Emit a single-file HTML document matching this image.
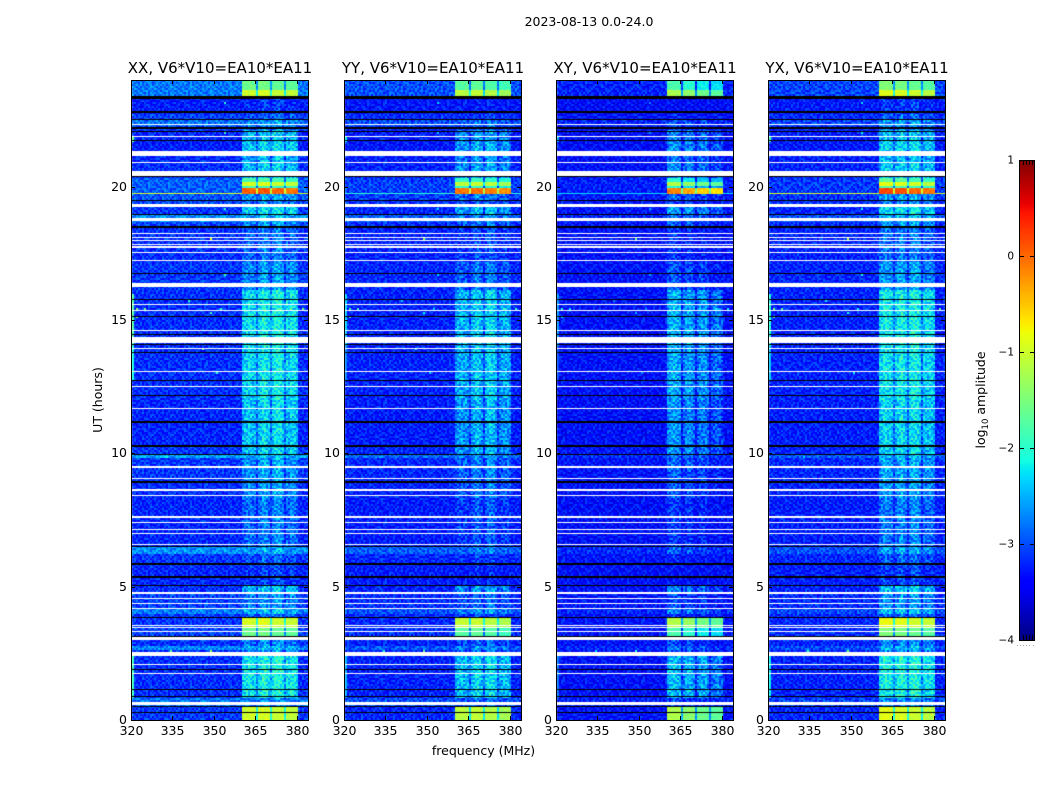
<!DOCTYPE html>
<html lang="en">
<head>
<meta charset="utf-8">
<title>2023-08-13 amplitude waterfall</title>
<style>
html,body{margin:0;padding:0;background:#fff;}
#figure{position:relative;width:1050px;height:800px;overflow:hidden;background:#fff;}
#figure canvas{position:absolute;display:block;}
#overlay{position:absolute;left:0;top:0;}
text{font-family:"DejaVu Sans","Liberation Sans",sans-serif;fill:#000;}
</style>
</head>
<body>
<div id="figure">
<svg id="overlay" width="1050" height="800" viewBox="0 0 1050 800">
  <text x="589" y="26" font-size="12.5" text-anchor="middle">2023-08-13 0.0-24.0</text>
  <text x="483.5" y="755" font-size="12.5" text-anchor="middle">frequency (MHz)</text>
  <text transform="translate(102,400) rotate(-90)" font-size="12.5" text-anchor="middle">UT (hours)</text>
  <text transform="translate(985,400) rotate(-90)" font-size="12.5" text-anchor="middle">log<tspan font-size="8.5" dy="3">10</tspan><tspan dy="-3"> amplitude</tspan></text>
</svg>
</div>
<script>
// ---- Chart values (log10 amplitude, UT hours, MHz) ----
const panelTitles = ["XX, V6*V10=EA10*EA11", "YY, V6*V10=EA10*EA11", "XY, V6*V10=EA10*EA11", "YX, V6*V10=EA10*EA11"];
const freqTicks = [320, 335, 350, 365, 380];
const utTicks = [0, 5, 10, 15, 20];
const cbarTicks = [1, 0, -1, -2, -3, -4];

// Time bands, top edge in UT; each band runs down to the next entry.
const bandTopUT = [24,23.63,23.40,22.76,22.50,22.31,22.16,21.71,21.15,20.89,20.36,20.18,20.03,19.95,19.80,19.73,19.50,19.24,18.98,18.71,18.45,17.18,16.13,14.06,12.00,11.14,10.24,9.94,9.79,9.00,8.36,6.49,6.26,5.81,5.03,4.76,4.20,3.94,3.83,3.45,3.11,2.74,2.59,2.40,0.86,0.56,0.49];
const backgroundLevel = [-2.72,-2.72,-3.2,-3.0,-2.75,-3.0,-3.15,-3.2,-3.15,-3.1,-2.85,-2.85,-2.85,-2.85,-2.9,-2.9,-2.95,-3.05,-2.6,-3.0,-3.1,-3.05,-3.1,-3.1,-3.15,-3.15,-3.05,-2.5,-3.05,-3.1,-3.15,-2.6,-3.05,-3.15,-3.1,-3.0,-2.7,-3.05,-3.05,-3.0,-3.1,-2.65,-3.1,-3.1,-2.75,-3.15,-3.05];
const stripeLevel = [-2.5,-2.5,-3.15,-2.95,-2.65,-2.8,-2.45,-2.35,-2.5,-2.4,-2.6,-2.6,-2.6,-2.6,-2.6,-2.6,-2.8,-2.3,-2.5,-2.65,-2.85,-2.65,-2.2,-2.25,-2.35,-2.35,-2.35,-2.5,-2.6,-2.65,-2.8,-2.6,-2.95,-3.1,-2.45,-2.7,-2.45,-2.9,-2.8,-2.8,-2.75,-2.5,-2.7,-2.15,-2.75,-3.05,-2.8];
const blockLevel = [-1.6,-1.0,null,null,null,null,null,null,null,null,-1.8,-0.95,-1.9,0.05,0.05,null,null,null,null,null,null,null,null,null,null,null,null,null,null,null,null,null,null,null,null,null,null,null,-0.95,-1.6,null,null,null,null,null,null,-1.0];

// Per-channel offsets for the 360-380 MHz sub-bands (first entry is channel 55 of 88).
const firstBandChannel = 55;
const stripeChannelDelta = [-0.2,-0.1,-0.05,-0.05,-0.1,-0.1,-0.15,-0.5,-0.1,0,0.1,0.15,0.05,-0.1,-0.5,0,0.1,0.15,0.15,0.1,-0.05,-0.5,-0.1,-0.1,0,0,-0.05,-0.15];
const blockChannelDelta = [0,0,0,0,0,0,0,-1.1,0.05,0.05,0.05,0.05,0.05,0.05,-1.1,-0.05,-0.05,-0.05,-0.05,-0.05,-0.05,-1.1,-0.1,-0.1,-0.1,-0.1,-0.1,-0.1];
// Sub-band tilt per polarisation: XY and YX favour the first sub-band.
const subBandTiltXX = [0, 0, 0, 0];
const subBandTiltYY = [0, 0, 0, -0.05];
const subBandTiltXY = [0.3, 0.05, -0.05, -0.1];
const subBandTiltYX = [0.1, 0, 0, -0.05];
const panelSubBandTilt = [subBandTiltXX, subBandTiltYY, subBandTiltXY, subBandTiltYX];

// How each polarisation differs from XX.
const panelBackgroundScale = [1, 0.65, 0.3, 0.5];
const panelBackgroundOffset = [-0.06, -0.1, -0.17, -0.08];
const panelStripeOffset = [0, -0.22, -0.5, 0];
const panelBlockOffset = [0, -0.12, -0.5, 0.02];
const panelSpikeOffset = [0, -0.4, -0.7, -0.2];
const panelEdgeOffset = [0, -0.6, -0.9, -0.3];

// Thin full-width RFI line near UT 19.77.
const rfiLineUT = 19.77;
const panelLineLevel = [-0.95, -2.0, -2.3, -0.95];

// Fully flagged (white) and zero-amplitude (black) time ranges, [top, bottom] in UT.
const flaggedRanges = [[22.35,22.31],[21.90,21.86],[21.34,21.15],[20.93,20.89],[20.59,20.40],[19.35,19.24],[18.83,18.71],[18.26,18.23],[18.11,18.08],[18.00,17.96],[17.85,17.81],[17.78,17.70],[17.55,17.51],[17.25,17.21],[16.39,16.24],[15.60,15.56],[15.38,15.34],[14.63,14.59],[14.36,14.14],[13.95,13.91],[13.09,13.05],[12.53,12.49],[11.70,11.66],[9.53,9.45],[9.08,9.04],[8.66,8.59],[8.44,8.40],[7.65,7.58],[7.43,7.39],[7.16,7.13],[7.01,6.98],[6.60,6.56],[4.80,4.73],[4.58,4.54],[4.39,4.35],[4.20,4.16],[3.56,3.53],[3.49,3.45],[3.34,3.30],[3.11,3.00],[2.55,2.40],[2.10,2.06],[1.76,1.73],[0.68,0.56]];
const blankRanges = [[23.40,23.29],[22.84,22.76],[22.54,22.50],[22.24,22.16],[22.09,22.05],[21.75,21.71],[20.40,20.36],[19.50,19.46],[18.98,18.94],[18.53,18.45],[16.76,16.73],[15.79,15.75],[15.15,15.11],[14.48,14.44],[14.10,14.06],[13.80,13.76],[12.75,12.71],[12.19,12.15],[11.21,11.14],[10.31,10.24],[9.98,9.94],[8.96,8.89],[6.53,6.49],[5.89,5.81],[5.40,5.33],[5.06,5.03],[3.86,3.83],[3.15,3.11],[1.91,1.88],[1.16,1.13],[0.90,0.86],[0.53,0.49],[0.30,0.26]];

// Isolated RFI spikes.
const spikeMHz = [348.5,334,348.5,354,354,354,354,322,325,322,378,382,346,352,351,349,333,365,341];
const spikeUT = [18.07,2.62,2.62,23.1,22.0,19.2,16.7,15.4,15.4,15.1,15.4,15.4,13.9,15.4,13.0,15.3,9.9,12.2,15.7];
const spikeLevel = [-0.9,-1.6,-1.3,-2.0,-2.0,-1.9,-1.9,-1.3,-1.5,-1.4,-1.5,-1.5,-1.7,-2.0,-2.0,-1.8,-2.1,-1.9,-2.0];

// Bright first channels, [top UT, bottom UT, level].
const edgeTopUT = [21.9,15.9,14.0,2.45];
const edgeBottomUT = [21.7,14.1,12.8,0.9];
const edgeLevel = [-1.6,-1.75,-2.1,-1.9];

// Hand-typed grain tile: digit 0-9 maps to a small amplitude offset.
const grainTile = [
"3816402957163840295716384920571638402751",
"7240916385027419638205147396082514739608",
"1593726048159372604815937260481593072648",
"8407152639840715263984071526398407152693",
"2961483075296148307529614830752961483705",
"6138057924613805792461380579246138057249",
"4725930618472593061847259306184725930168",
"9052374816905237481690523748169052378416",
"0374869251037486925103748692510374862951",
"5689213407568921340756892134075689230417",
"3140795862314079586231407958623140798562",
"7926508143792650814379265081437926580431",
"2058346971205834697120583469712058369471",
"8463027195846302719584630271958463071295",
"1709482536170948253617094825361709425836",
"6395170284639517028463951702846395102784",
"4281693750428169375042816937504281975306",
"9517240638951724063895172406389517460238",
"0826735419082673541908267354190826354719",
"5374018962537401896253740189625374896012",
"3692851047369285104736928510473692510847",
"7148062593714806259371480625937148625903",
"2405937186240593718624059371862405718936",
"8731264095873126409587312640958731409265",
"1069478352106947835210694783521069835742",
"6582319740658231974065823197406582974130",
"4917603285491760328549176032854917285063",
"9230745168923074516892307451689230516874",
"0654182937065418293706541829370654937182",
"5843096271584309627158430962715843271906"
];

const jetR = [[0,0],[0.35,0],[0.66,1],[0.89,1],[1,0.5]];
const jetG = [[0,0],[0.125,0],[0.375,1],[0.64,1],[0.91,0],[1,0]];
const jetB = [[0,0.5],[0.11,1],[0.34,1],[0.65,0],[1,0]];

// ---- Layout and axis functions ----
const panelLeft = [131, 344, 556, 768];
const panelWidth = 177, plotTop = 80, plotBottom = 720;
const channels = 88, rows = 320, cell = 2;
const cbarLeft = 1019, cbarWidth = 16, cbarTop = 160, cbarBottom = 640;
const xScale = function (mhz, left) { return left + (mhz - 320) * panelWidth / 64; };
const yScale = function (ut) { return plotBottom - ut * (plotBottom - plotTop) / 24; };
const cbarScale = function (v) { return cbarBottom - (v + 4) * (cbarBottom - cbarTop) / 5; };
const rowUT = function (r) { return 24 - (r + 0.5) * 24 / rows; };
const channelOf = function (mhz) { return Math.floor((mhz - 320) / 64 * channels); };
const rowOf = function (ut) { return Math.floor((24 - ut) / 24 * rows); };

function lerpStops(stops, t) {
  for (let i = 1; i < stops.length; i++) {
    if (t <= stops[i][0]) {
      const a = stops[i - 1], b = stops[i];
      return a[1] + (b[1] - a[1]) * (t - a[0]) / (b[0] - a[0]);
    }
  }
  return stops[stops.length - 1][1];
}
function jet(v) {
  const t = Math.max(0, Math.min(1, (v + 4) / 5));
  return "rgb(" + Math.round(255 * lerpStops(jetR, t)) + "," + Math.round(255 * lerpStops(jetG, t)) + "," + Math.round(255 * lerpStops(jetB, t)) + ")";
}
function bandIndex(ut) {
  let idx = 0;
  for (let i = 0; i < bandTopUT.length; i++) { if (ut <= bandTopUT[i]) idx = i; }
  return idx;
}
function cellValue(p, r, c, band) {
  const g = grainTile[(r + p * 11) % grainTile.length].charCodeAt((c + p * 17) % grainTile[0].length) - 48;
  const grain = (g - 4.5) * 0.07;
  const bg = -3.2 + (backgroundLevel[band] + 3.2) * panelBackgroundScale[p] + panelBackgroundOffset[p];
  let v = bg + grain;
  const k = c - firstBandChannel;
  if (k >= 0 && k < stripeChannelDelta.length) {
    const tilt = panelSubBandTilt[p][Math.min(3, Math.floor(k / 7))];
    const s = stripeLevel[band] + panelStripeOffset[p] + tilt + stripeChannelDelta[k] + grain * 1.25;
    v = Math.max(v, s);
    if (blockLevel[band] !== null) {
      v = blockLevel[band] + panelBlockOffset[p] + tilt + blockChannelDelta[k] + grain * 0.4;
    }
  }
  return v;
}

const figure = document.getElementById("figure");
const overlay = document.getElementById("overlay");
const NS = "http://www.w3.org/2000/svg";

function svgEl(tag, attrs) {
  const el = document.createElementNS(NS, tag);
  for (const k in attrs) el.setAttribute(k, attrs[k]);
  overlay.appendChild(el);
  return el;
}
function drawTick(x1, y1, x2, y2, name) {
  const el = svgEl("line", { x1: x1, y1: y1, x2: x2, y2: y2, stroke: "#000", "stroke-width": 1 });
  
  
}
function drawLabel(x, y, str, anchor, size, name) {
  const el = svgEl("text", { x: x, y: y, "text-anchor": anchor, "font-size": size });
  el.textContent = str;
  
  
}

panelLeft.forEach(function (left, p) {
  const cv = document.createElement("canvas");
  cv.width = panelWidth;
  cv.height = plotBottom - plotTop;
  cv.style.left = left + "px";
  cv.style.top = plotTop + "px";
  
  
  figure.insertBefore(cv, overlay);
  const ctx = cv.getContext("2d");

  for (let r = 0; r < rows; r++) {
    const band = bandIndex(rowUT(r));
    for (let c = 0; c < channels; c++) {
      ctx.fillStyle = jet(cellValue(p, r, c, band));
      ctx.fillRect(1 + c * cell, r * cell, cell, cell);
    }
  }
  edgeLevel.forEach(function (lvl, i) {
    for (let r = rowOf(edgeTopUT[i]); r <= rowOf(edgeBottomUT[i]); r++) {
      ctx.fillStyle = jet(lvl + panelEdgeOffset[p]);
      ctx.fillRect(1, r * cell, cell, cell);
    }
  });
  spikeLevel.forEach(function (lvl, i) {
    ctx.fillStyle = jet(lvl + panelSpikeOffset[p]);
    ctx.fillRect(1 + channelOf(spikeMHz[i]) * cell, rowOf(spikeUT[i]) * cell, cell, cell);
  });
  ctx.fillStyle = jet(panelLineLevel[p]);
  ctx.fillRect(1, Math.round(yScale(rfiLineUT)) - plotTop, 110, 1);
  ctx.fillRect(1 + 83 * cell, Math.round(yScale(rfiLineUT)) - plotTop, panelWidth - 1 - 83 * cell, 1);
  ctx.fillStyle = "#fff";
  flaggedRanges.forEach(function (rg) {
    const y0 = Math.round(yScale(rg[0])) - plotTop, y1 = Math.round(yScale(rg[1])) - plotTop;
    ctx.fillRect(0, y0, panelWidth, Math.max(1, y1 - y0));
  });
  ctx.fillStyle = "#000";
  blankRanges.forEach(function (rg) {
    const y0 = Math.round(yScale(rg[0])) - plotTop, y1 = Math.round(yScale(rg[1])) - plotTop;
    ctx.fillRect(0, y0, panelWidth, Math.max(1, y1 - y0));
  });

  const frame = svgEl("rect", { x: left + 0.5, y: plotTop + 0.5, width: panelWidth, height: plotBottom - plotTop, fill: "none", stroke: "#000", "stroke-width": 1 });
  
  

  drawLabel(left + panelWidth / 2 + 0.5, 73, panelTitles[p], "middle", 15, "panel-title");

  freqTicks.forEach(function (f) {
    const x = Math.round(xScale(f, left)) + 0.5;
    drawTick(x, plotBottom, x, plotBottom - 4, "x-tick-bottom");
    drawTick(x, plotTop, x, plotTop + 4, "x-tick-top");
    drawLabel(x, 735, String(f), "middle", 12.5, "x-tick-label");
  });
  utTicks.forEach(function (u) {
    const y = Math.round(yScale(u)) + 0.5;
    drawTick(left, y, left + 4, y, "y-tick-left");
    drawTick(left + panelWidth, y, left + panelWidth - 4, y, "y-tick-right");
    drawLabel(left - 4, y + 3.5, String(u), "end", 12.5, "y-tick-label");
  });
});

// Colorbar
const cb = document.createElement("canvas");
cb.width = cbarWidth;
cb.height = cbarBottom - cbarTop;
cb.style.left = cbarLeft + "px";
cb.style.top = cbarTop + "px";


figure.insertBefore(cb, overlay);
const cbCtx = cb.getContext("2d");
for (let y = 0; y < cb.height; y++) {
  cbCtx.fillStyle = jet(1 - (y + 0.5) * 5 / cb.height);
  cbCtx.fillRect(0, y, cbarWidth, 1);
}
const cbFrame = svgEl("rect", { x: cbarLeft + 0.5, y: cbarTop + 0.5, width: cbarWidth - 1, height: cbarBottom - cbarTop, fill: "none", stroke: "#000", "stroke-width": 1 });


cbarTicks.forEach(function (v) {
  const y = Math.round(cbarScale(v)) + 0.5;
  drawTick(cbarLeft, y, cbarLeft + 5, y, "colorbar-tick-left");
  drawTick(cbarLeft + cbarWidth, y, cbarLeft + cbarWidth - 5, y, "colorbar-tick-right");
  drawLabel(cbarLeft - 5, y + 3, v < 0 ? "\u2212" + Math.abs(v) : String(v), "end", 10.5, "colorbar-tick-label");
});
[4, 7, 10, 13].forEach(function (dx) {
  drawTick(cbarLeft + dx + 0.5, cbarTop, cbarLeft + dx + 0.5, cbarTop + 5, "colorbar-minor-tick-top");
  drawTick(cbarLeft + dx + 0.5, cbarBottom, cbarLeft + dx + 0.5, cbarBottom - 5, "colorbar-minor-tick-bottom");
});
[1017, 1020, 1023, 1026, 1029, 1033].forEach(function (x) {
  const dot = svgEl("rect", { x: x, y: 645, width: 1, height: 1, fill: "#aaa" });
  
  
});
</script>
</body>
</html>
